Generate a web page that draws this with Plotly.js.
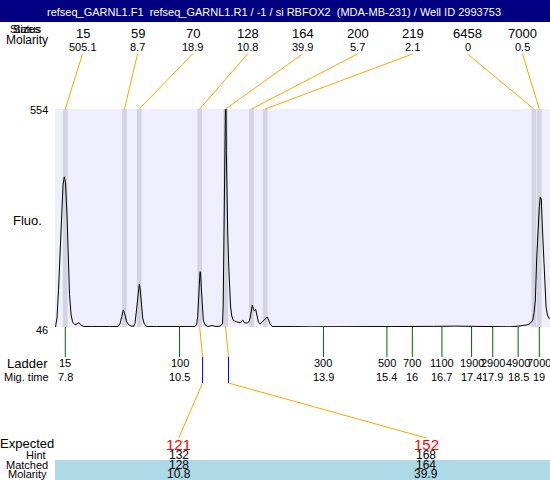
<!DOCTYPE html>
<html><head><meta charset="utf-8">
<script src="https://cdn.plot.ly/plotly-3.0.1.min.js"></script>
<style>html,body{margin:0;padding:0;background:#fff}#chart{width:550px;height:480px}</style>
</head><body><div id="chart"></div>
<script>
// ---------------- data ----------------
const titleText = 'refseq_GARNL1.F1  refseq_GARNL1.R1 / -1 / si RBFOX2  (MDA-MB-231) / Well ID 2993753';
const peakSizes = [15, 59, 70, 128, 164, 200, 219, 6458, 7000];
const peakMolarity = ['505.1', '8.7', '18.9', '10.8', '39.9', '5.7', '2.1', '0', '0.5'];
const ladderSizes = [15, 100, 300, 500, 700, 1100, 1900, 2900, 4900, 7000];
const ladderTimes = [7.8, 10.5, 13.9, 15.4, 16, 16.7, 17.4, 17.9, 18.5, 19];
const expectedSizes = [121, 152];
const hintSizes = [132, 168];
const matchedSizes = [128, 164];
const matchedMolarity = ['10.8', '39.9'];
const fluoMin = 46, fluoMax = 554;
const traceTime = [7.569,7.604,7.640,7.675,7.711,7.746,7.777,7.805,7.841,7.871,7.900,7.935,7.971,8.030,8.077,8.124,8.171,8.242,8.45,8.62,8.85,
  9.046,9.093,9.133,9.171,9.211,9.251,9.294,9.353,9.424,9.447,9.478,9.506,9.534,9.549,9.572,9.596,9.629,9.667,9.731,9.95,10.2,10.45,10.7,
  10.865,10.905,10.929,10.948,10.967,10.983,10.995,11.014,11.035,11.061,11.101,11.172,11.267,11.361,11.456,
  11.515,11.531,11.543,11.557,11.574,11.586,11.593,11.605,11.617,11.638,11.662,11.676,11.704,11.733,11.770,11.851,11.929,11.993,12.030,12.094,
  12.140,12.172,12.195,12.219,12.243,12.266,12.299,12.325,12.361,12.401,12.448,12.495,12.536,12.573,12.606,12.637,12.685,12.874,
  13.2,13.6,14.0,14.5,15.0,15.5,16.0,16.5,17.0,17.5,17.9,18.072,18.309,18.545,18.710,18.781,18.845,18.876,18.907,18.940,18.970,
  19.001,19.025,19.049,19.072,19.096,19.129,19.160,19.191,19.231,19.253];
const traceFluo = [46,67,132,225,307,377,396,382,307,197,121,76,58,51,54,56,50,47,47,46.5,47,
  47,53,70,86,74,58,52,48,48,55,81,114,140,146,132,97,67,53,47,47,46.5,47,47,
  47,53,70,97,144,175,174,139,93,62,51,47,49.5,47,48,
  53,97,195,265,382,482,640,458,365,265,188,146,95,72,61,58,56,62,56,55,
  58,69,86,97,89,83,87,73,58,53,56.5,62,66,69,62,53,47,46.5,
  47,46.5,47,47.5,47,47,46.5,47.5,48,47,47.5,47,46.5,48.5,51,54,62,79,109,209,279,
  326,349,342,279,225,139,93,74,66,67];

// ---------------- layout helpers ----------------
const W = 550, H = 480, L = 55, T = 109, B = 327;
const xRange = [7.557, 19.253];
const px = p => (p - L) / (W - L);          // pixel x -> paper
const py = p => (B - p) / (B - T);          // pixel y -> paper
const paperToX = f => xRange[0] + f * (xRange[1] - xRange[0]);
function sizeToTime(s) {
  for (let i = 0; i < ladderSizes.length - 1; i++) {
    if (s <= ladderSizes[i + 1]) {
      const f = (s - ladderSizes[i]) / (ladderSizes[i + 1] - ladderSizes[i]);
      return ladderTimes[i] + f * (ladderTimes[i + 1] - ladderTimes[i]);
    }
  }
  return ladderTimes[ladderTimes.length - 1];
}
const FONT = 'Liberation Sans, Arial, sans-serif';
const ORANGE = '#ffa500', GREEN = '#006400', BLUE = '#0000ff';

const shapes = [];
const annotations = [];
function txt(text, x, y, size, opts) {
  annotations.push(Object.assign({text: text, x: x, y: y, xref: 'paper', yref: 'paper', showarrow: false,
    xanchor: 'center', yanchor: 'middle', borderpad: 0, font: {family: FONT, size: size, color: '#000'}}, opts || {}));
}

// header bar
shapes.push({type: 'rect', xref: 'paper', yref: 'paper', x0: px(0), x1: 1, y0: py(22), y1: py(0),
  fillcolor: '#000080', line: {width: 0}, layer: 'below'});
// light blue band at the bottom
shapes.push({type: 'rect', xref: 'paper', yref: 'paper', x0: 0, x1: 1, y0: py(480), y1: py(460),
  fillcolor: '#add8e6', line: {width: 0}, layer: 'below'});

// peak bands + top connectors + labels
const nP = peakSizes.length;
peakSizes.forEach((s, i) => {
  const t = sizeToTime(s);
  shapes.push({type: 'rect', xref: 'x', yref: 'paper', x0: t - 0.055, x1: t + 0.055, y0: 0, y1: 1,
    fillcolor: '#d3d3e2', line: {width: 0}, layer: 'below'});
  const f = (i + 0.5) / nP;
  shapes.push({type: 'line', xref: 'x', yref: 'paper', x0: paperToX(f), y0: py(54), x1: t, y1: 1,
    line: {color: ORANGE, width: 1}});
  txt(String(s), f, py(34), 13);
  txt(peakMolarity[i], f, py(46.5), 11);
});
txt('Sizes', px(26), py(29.5), 11);
txt('Status', px(26), py(29.5), 11);
txt('Molarity', px(26.5), py(40.5), 12);

// ladder
ladderTimes.forEach((t, i) => {
  shapes.push({type: 'line', xref: 'x', yref: 'paper', x0: t, x1: t, y0: 0, y1: py(357),
    line: {color: GREEN, width: 1}});
  txt(String(ladderSizes[i]), 0, py(363), 11, {xref: 'x', x: t});
  txt(String(t), 0, py(377), 11, {xref: 'x', x: t});
});
txt('Ladder', px(27), py(363), 13);
txt('Mig. time', px(26), py(377), 11);

// matched / expected connectors
const nE = expectedSizes.length;
matchedSizes.forEach((s, j) => {
  const tp = sizeToTime(s), th = sizeToTime(hintSizes[j]);
  const f = (j + 0.5) / nE;
  shapes.push({type: 'line', xref: 'x', yref: 'paper', x0: tp, y0: 0, x1: th, y1: py(357), line: {color: ORANGE, width: 1}});
  shapes.push({type: 'line', xref: 'x', yref: 'paper', x0: th, y0: py(357), x1: th, y1: py(383), line: {color: BLUE, width: 1}});
  shapes.push({type: 'line', xref: 'x', yref: 'paper', x0: th, y0: py(383), x1: paperToX(f), y1: py(438), line: {color: ORANGE, width: 1}});
  txt(String(expectedSizes[j]), f, py(444), 15, {font: {family: FONT, size: 15, color: '#ff0000'}});
  txt(String(hintSizes[j]), f, py(455), 12);
  txt(String(s), f, py(465), 12);
  txt(matchedMolarity[j], f, py(473.5), 12);
});
txt('Expected', px(27), py(443.5), 13);
txt('Hint', px(36), py(455), 11);
txt('Matched', px(26.5), py(465), 11);
txt('Molarity', px(27), py(473.5), 11);

// y labels
txt(String(fluoMax), px(49), py(110), 11, {xanchor: 'right'});
txt(String(fluoMin), px(49), py(330), 11, {xanchor: 'right'});
txt('Fluo.', px(27), py(220), 13);

const data = [{x: traceTime, y: traceFluo, type: 'scatter', mode: 'lines',
  line: {color: '#000', width: 1}, hoverinfo: 'skip'}];

const layout = {
  width: W, height: H,
  margin: {l: L, r: 0, t: T, b: H - B, pad: 0},
  paper_bgcolor: '#ffffff', plot_bgcolor: '#eeeefc',
  showlegend: false,
  title: {text: titleText, x: 274 / W, xanchor: 'center', xref: 'container', y: 1 - 12.5 / H, yanchor: 'middle', yref: 'container',
    font: {family: FONT, size: 11, color: '#ffffff'}},
  xaxis: {range: xRange, showgrid: false, zeroline: false, showticklabels: false, showline: false, ticks: '', fixedrange: true},
  yaxis: {range: [fluoMin, fluoMax], showgrid: false, zeroline: false, showticklabels: false, showline: false, ticks: '', fixedrange: true},
  shapes: shapes, annotations: annotations
};
Plotly.newPlot('chart', data, layout, {displayModeBar: false, staticPlot: true});
</script></body></html>
